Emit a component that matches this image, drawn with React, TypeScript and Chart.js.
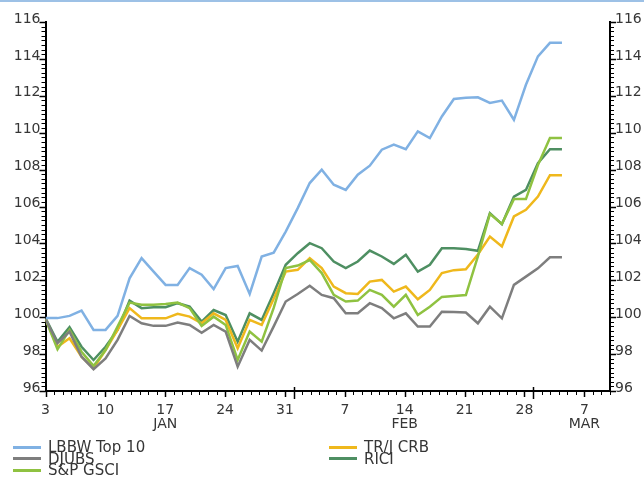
import React, { useEffect, useRef } from 'react';
import { Chart, registerables } from 'chart.js';

Chart.register(...registerables);

// ---- Data (one value per trading day, 3 Jan – 4 Mar) ----
const LBBW_TOP10 = [
  99.95, 99.95, 100.07, 100.36, 99.31, 99.31, 100.07, 102.11, 103.2, 102.47,
  101.75, 101.75, 102.66, 102.3, 101.52, 102.66, 102.78, 101.26, 103.29, 103.5,
  104.64, 105.91, 107.27, 107.99, 107.18, 106.9, 107.72, 108.21, 109.08, 109.35,
  109.11, 110.07, 109.71, 110.88, 111.83, 111.9, 111.92, 111.61, 111.74, 110.7,
  112.6, 114.14, 114.87, 114.87,
];
const DJUBS = [
  99.9, 98.59, 99.22, 97.86, 97.18, 97.77, 98.77, 100.07, 99.67, 99.53,
  99.53, 99.71, 99.58, 99.16, 99.58, 99.22, 97.32, 98.77, 98.19, 99.5,
  100.85, 101.26, 101.7, 101.21, 101.03, 100.21, 100.21, 100.76, 100.49, 99.94,
  100.21, 99.49, 99.49, 100.3, 100.28, 100.25, 99.67, 100.57, 99.94, 101.75,
  102.2, 102.65, 103.25, 103.25,
];
const SP_GSCI = [
  99.9, 98.26, 99.31, 98.13, 97.36, 98.22, 99.49, 100.79, 100.67, 100.67,
  100.72, 100.79, 100.49, 99.53, 100.03, 99.58, 97.68, 99.22, 98.67, 100.5,
  102.66, 102.8, 103.1, 102.39, 101.21, 100.85, 100.9, 101.48, 101.21, 100.57,
  101.21, 100.12, 100.57, 101.1, 101.15, 101.2, 103.3, 105.6, 105.05, 106.4,
  106.4, 108.25, 109.71, 109.71,
];
const TRJ_CRB = [
  99.9, 98.4, 98.86, 97.86, 97.23, 98.22, 99.31, 100.49, 99.94, 99.94,
  99.94, 100.18, 100.03, 99.67, 100.21, 99.85, 98.32, 99.85, 99.58, 101.0,
  102.47, 102.57, 103.2, 102.66, 101.66, 101.3, 101.26, 101.93, 102.02, 101.39,
  101.66, 100.97, 101.48, 102.39, 102.55, 102.6, 103.4, 104.37, 103.83, 105.46,
  105.82, 106.54, 107.7, 107.7,
];
const RICI = [
  99.95, 98.67, 99.46, 98.4, 97.68, 98.4, 99.31, 100.9, 100.49, 100.54,
  100.54, 100.76, 100.57, 99.76, 100.39, 100.12, 98.67, 100.21, 99.85, 101.3,
  102.84, 103.47, 104.01, 103.74, 103.02, 102.66, 103.02, 103.61, 103.29, 102.89,
  103.38, 102.47, 102.84, 103.74, 103.74, 103.7, 103.6, 105.64, 105.04, 106.54,
  106.9, 108.35, 109.1, 109.1,
];

const SERIES = [LBBW_TOP10, DJUBS, SP_GSCI, TRJ_CRB, RICI];
const SERIES_NAMES = ['LBBW Top 10', 'DJUBS', 'S&P GSCI', 'TR/J CRB', 'RICI'];
const SERIES_COLORS = ['#80b1e3', '#7e7e7e', '#8fc241', '#efb81c', '#4e8f62'];

// ---- Axis ticks ----
const Y_MIN = 96;
const Y_MAX = 116;
const Y_LABEL_STEP = 2;
const Y_MINOR_STEP = 0.25;
const X_TICK_DAYS = [0, 7, 14, 21, 28, 35, 42, 49, 56, 63];
const X_DAY_LABELS = ['3', '10', '17', '24', '31', '7', '14', '21', '28', '7'];
const X_MONTH_LABELS = ['', '', 'JAN', '', '', '', 'FEB', '', '', 'MAR'];
const MONTH_START_DAYS = [29, 57];
const CALENDAR_DAYS = 66;
const TRADING_SLOTS = 47;

const FONT_FAMILY = "'DejaVu Sans', 'Liberation Sans', sans-serif";
const TEXT_COLOR = '#363636';

const axisTicks = {
  id: 'axisTicks',
  afterDraw(chart: any) {
    const ctx = chart.ctx;
    const y = chart.scales.y;
    const y2 = chart.scales.y2;
    const xc = chart.scales.xc;
    ctx.save();
    ctx.strokeStyle = '#000';
    ctx.lineWidth = 1;
    const steps = Math.round((Y_MAX - Y_MIN) / Y_MINOR_STEP);
    for (let n = 0; n <= steps; n++) {
      const v = Y_MIN + n * Y_MINOR_STEP;
      const major = v % Y_LABEL_STEP === 0;
      const len = major ? 6 : 4;
      const py = Math.round(y.getPixelForValue(v)) + 0.5;
      ctx.lineWidth = major ? 1.5 : 1;
      ctx.beginPath();
      ctx.moveTo(y.right, py);
      ctx.lineTo(y.right - len, py);
      ctx.moveTo(y2.left, py);
      ctx.lineTo(y2.left + len, py);
      ctx.stroke();
    }
    const base = xc.top;
    for (let d = 0; d <= CALENDAR_DAYS; d++) {
      const px = Math.round(xc.getPixelForValue(d)) + 0.5;
      const labelled = X_TICK_DAYS.indexOf(d) >= 0;
      const monthStart = MONTH_START_DAYS.indexOf(d) >= 0;
      ctx.lineWidth = labelled || monthStart ? 1.5 : 1;
      ctx.beginPath();
      ctx.moveTo(px, monthStart ? base - 4 : base);
      ctx.lineTo(px, base + (monthStart ? 8 : labelled ? 6 : 4));
      ctx.stroke();
    }
    ctx.restore();
  },
};

function ChartCanvas() {
  const ref = useRef<HTMLCanvasElement | null>(null);
  useEffect(() => {
    if (!ref.current) return;
    const font = { family: FONT_FAMILY, size: 14 };
    const yTicks = {
      stepSize: Y_LABEL_STEP,
      autoSkip: false,
      maxTicksLimit: 1000,
      labelOffset: -3,
      padding: 1,
      color: TEXT_COLOR,
      font,
    };
    const axisGrid = { display: true, drawOnChartArea: false, drawTicks: true, tickLength: 4, color: 'rgba(0,0,0,0)', lineWidth: 1 };
    const chart = new Chart(ref.current, {
      type: 'line',
      data: {
        datasets: SERIES.map((s, k) => ({
          label: SERIES_NAMES[k],
          data: s.map((v, i) => ({ x: i, y: v })),
          borderColor: SERIES_COLORS[k],
          backgroundColor: SERIES_COLORS[k],
          borderWidth: 2.5,
          pointRadius: 0,
          tension: 0,
          fill: false,
          xAxisID: 'x',
          yAxisID: 'y',
        })),
      },
      options: {
        responsive: false,
        animation: false,
        layout: { padding: { top: 22, left: 0, right: 0, bottom: 0 } },
        plugins: { legend: { display: false }, tooltip: { enabled: false } },
        scales: {
          x: { type: 'linear', min: 0, max: TRADING_SLOTS, display: false },
          xc: {
            type: 'linear',
            position: 'bottom',
            min: 0,
            max: CALENDAR_DAYS,
            afterFit: (s: any) => { s.height = 86; },
            grid: axisGrid,
            border: { display: true, color: '#000', width: 2 },
            ticks: {
              stepSize: 1,
              autoSkip: false,
              maxTicksLimit: 1000,
              maxRotation: 0,
              minRotation: 0,
              padding: 9,
              color: TEXT_COLOR,
              font: { ...font, lineHeight: 0.95 },
              callback: (v: any) => {
                const k = X_TICK_DAYS.indexOf(Number(v));
                if (k < 0) return '';
                return X_MONTH_LABELS[k] ? [X_DAY_LABELS[k], X_MONTH_LABELS[k]] : X_DAY_LABELS[k];
              },
            },
          },
          y: {
            position: 'left',
            min: Y_MIN,
            max: Y_MAX,
            afterFit: (s: any) => { s.width = 45.5; },
            grid: axisGrid,
            border: { display: true, color: '#000', width: 2 },
            ticks: yTicks,
          },
          y2: {
            position: 'right',
            min: Y_MIN,
            max: Y_MAX,
            afterFit: (s: any) => { s.width = 34; },
            grid: axisGrid,
            border: { display: true, color: '#000', width: 2 },
            ticks: yTicks,
          },
        },
      } as any,
      plugins: [axisTicks],
    });
    return () => chart.destroy();
  }, []);
  return <canvas ref={ref} width={644} height={477} style={{ position: 'absolute', left: 0, top: 0 }} />;
}

const LEGEND_SLOTS = [
  { left: 13, top: 447 },
  { left: 13, top: 458.5 },
  { left: 13, top: 470 },
  { left: 329, top: 447 },
  { left: 329, top: 458.5 },
];
const LEGEND_ORDER = [0, 1, 2, 3, 4];

function Legend() {
  return (
    <>
      {LEGEND_ORDER.map((k, j) => {
        const slot = LEGEND_SLOTS[j];
        return (
          <div key={k} style={{ position: 'absolute', left: slot.left, top: slot.top - 8, height: 16, display: 'flex', alignItems: 'center' }}>
            <div style={{ width: 28, height: 3, background: SERIES_COLORS[k] }} />
            <span style={{ marginLeft: 7, font: `15px ${FONT_FAMILY}`, lineHeight: '16px', color: TEXT_COLOR, whiteSpace: 'nowrap' }}>
              {SERIES_NAMES[k]}
            </span>
          </div>
        );
      })}
    </>
  );
}

export default function App() {
  return (
    <div style={{ position: 'fixed', left: 0, top: 0, width: 644, height: 477, background: '#fff', overflow: 'hidden' }}>
      <ChartCanvas />
      <div style={{ position: 'absolute', left: 0, top: 0, width: 644, height: 2, background: '#9dc1e6' }} />
      <Legend />
    </div>
  );
}
